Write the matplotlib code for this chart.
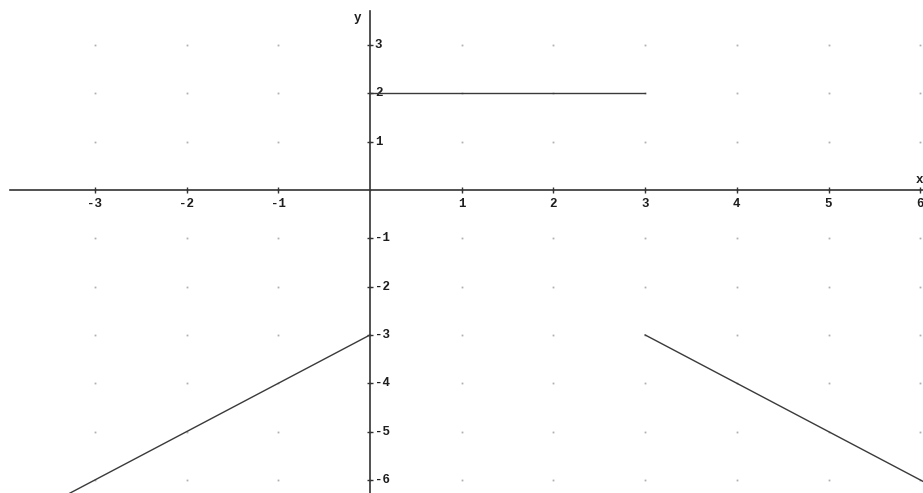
import numpy as np
import matplotlib
matplotlib.use("Agg")
import matplotlib.pyplot as plt

# Piecewise function pieces
left_x = [-4.3, 0]          # y = x - 3  for x < 0
left_y = [-7.3, -3]
mid_x = [0, 3]              # y = 2      for 0 <= x < 3
mid_y = [2, 2]
right_x = [3, 6.3]          # y = -x     for x >= 3
right_y = [-3, -6.3]

x_ticks = [-3, -2, -1, 1, 2, 3, 4, 5, 6]
y_ticks = [-6, -5, -4, -3, -2, -1, 1, 2, 3]
grid_x = [-3, -2, -1, 0, 1, 2, 3, 4, 5, 6]
grid_y = [-6, -5, -4, -3, -2, -1, 0, 1, 2, 3]

fig = plt.figure(figsize=(9.23, 4.93), dpi=100)
ax = fig.add_axes([0, 0, 1, 1])
ax.set_xlim(-4.035, 6.03)
ax.set_ylim(-6.27, 3.93)
ax.set_axis_off()

font = dict(family="Liberation Mono", weight="bold", size=9, color="#1e1e1e")
axis_col = "#333333"

# dotted lattice at integer points
gx, gy = np.meshgrid(grid_x, grid_y)
ax.plot(gx.ravel(), gy.ravel(), linestyle="none", marker="s", markersize=1.3,
        markeredgewidth=0, color="#b0b0b0", zorder=1)

# coordinate axes
ax.plot([-3.93, 6.03], [0, 0], color=axis_col, lw=1.2, zorder=2, clip_on=False)
ax.plot([0, 0], [-6.3, 3.7], color=axis_col, lw=1.2, zorder=2, clip_on=False)

# tick marks
ax.plot(x_ticks, [0] * len(x_ticks), linestyle="none", marker="|", markersize=5,
        markeredgewidth=1, color=axis_col, zorder=2)
ax.plot([0] * len(y_ticks), y_ticks, linestyle="none", marker="_", markersize=5,
        markeredgewidth=1, color=axis_col, zorder=2)

# tick labels
for v in x_ticks:
    ax.annotate(str(v), (v, 0), xytext=(0, -10), textcoords="offset points",
                ha="center", va="center", **font)
for v in y_ticks:
    ax.annotate(str(v), (0, v), xytext=(3.5, 0), textcoords="offset points",
                ha="left", va="center", **font)

# axis names
ax.annotate("y", (0, 3.7), xytext=(-9, -5), textcoords="offset points",
            ha="center", va="center", **font)
ax.annotate("x", (6.03, 0), xytext=(0, 7), textcoords="offset points",
            ha="right", va="center", **font)

# function graph
line_kw = dict(color="#3a3a3a", lw=1.0, zorder=3)
ax.plot(left_x, left_y, **line_kw)
ax.plot(mid_x, mid_y, **line_kw)
ax.plot(right_x, right_y, **line_kw)

fig.savefig("out.png", dpi=100, facecolor="white")
